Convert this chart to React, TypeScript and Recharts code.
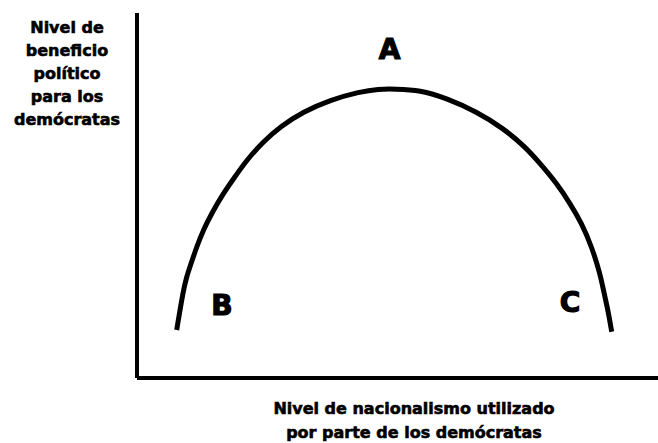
import { LineChart, Line, XAxis, YAxis, ReferenceDot, Label } from "recharts";

// curve points (x: nationalism level, y: political benefit), 0..100 scale
const curveX = [7.62, 8.89, 9.54, 10.17, 11.46, 12.73, 14.34, 16.56, 18.81, 21.06, 24.24, 27.45, 31.92, 37.04, 42.8, 46.31, 49.52, 54.32, 59.44, 65.2, 70.31, 74.47, 77.35, 80.56, 83.11, 85.36, 87.27, 88.87, 89.64, 90.46, 91.11];
const curveY = [13.15, 24.11, 27.75, 30.49, 35.97, 40.55, 45.12, 50.6, 55.15, 59.73, 64.74, 68.85, 72.96, 76.16, 78.44, 79.18, 79.18, 78.9, 76.63, 72.96, 68.41, 63.37, 58.82, 53.34, 47.86, 42.38, 35.97, 28.68, 23.29, 18.16, 12.68];

const pointNames = ["A", "B", "C"];
const pointX = [48.5, 16.3, 83.1];
const pointY = [90.1, 20.0, 20.8];

const yTitle = ["Nivel de", "beneficio", "político", "para los", "demócratas"];
const xTitle = ["Nivel de nacionalismo utilizado", "por parte de los demócratas"];

const data = curveX.map((x, i) => ({ x, y: curveY[i] }));
const font = "'DejaVu Sans', sans-serif";

function YTitle() {
  return (
    <text x={67} textAnchor="middle" fontFamily={font} fontWeight="bold" fontSize={16} fill="#000" stroke="#000" strokeWidth={0.6}>
      {yTitle.map((t, i) => (
        <tspan key={t} x={67} y={33 + i * 23}>{t}</tspan>
      ))}
    </text>
  );
}

function XTitle() {
  return (
    <text textAnchor="middle" fontFamily={font} fontWeight="bold" fontSize={16} fill="#000" stroke="#000" strokeWidth={0.6}>
      {xTitle.map((t, i) => (
        <tspan key={t} x={414} y={414 + i * 24}>{t}</tspan>
      ))}
    </text>
  );
}

function Letter(props: any) {
  const { cx, cy, name } = props;
  return (
    <text x={cx} y={cy} textAnchor="middle" dominantBaseline="central" fontFamily={font} fontWeight="bold" fontSize={28} fill="#000" stroke="#000" strokeWidth={1.2}>
      {name}
    </text>
  );
}

export default function App() {
  return (
    <div style={{ position: "absolute", left: 0, top: 0, width: 658, height: 443, background: "#fff" }}>
      <LineChart width={658} height={443} data={data} margin={{ top: 13, right: 0, bottom: 0, left: 0 }}>
        <XAxis
          dataKey="x"
          type="number"
          domain={[0, 100]}
          height={65}
          tick={false}
          tickLine={false}
          axisLine={{ stroke: "#000", strokeWidth: 4 }}
        >
          <Label content={() => <XTitle />} />
        </XAxis>
        <YAxis
          type="number"
          domain={[0, 100]}
          width={137}
          tick={false}
          tickLine={false}
          axisLine={{ stroke: "#000", strokeWidth: 4 }}
        >
          <Label content={() => <YTitle />} />
        </YAxis>
        <Line
          type="basis"
          dataKey="y"
          stroke="#000"
          strokeWidth={5}
          dot={false}
          isAnimationActive={false}
        />
        {pointNames.map((n, i) => (
          <ReferenceDot
            key={n}
            x={pointX[i]}
            y={pointY[i]}
            r={0}
            shape={(p: any) => <Letter {...p} name={n} />}
          />
        ))}
      </LineChart>
    </div>
  );
}
